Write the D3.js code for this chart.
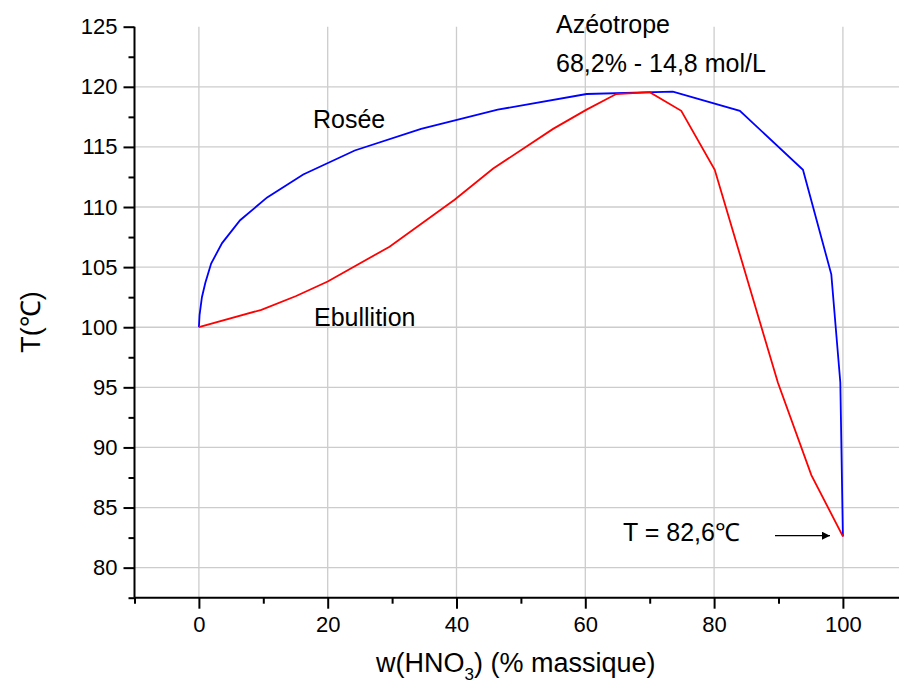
<!DOCTYPE html>
<html>
<head>
<meta charset="utf-8">
<script src="https://cdn.jsdelivr.net/npm/d3@7"></script>
<style>
  body { margin: 0; background: #fff; }
  text { font-family: Arial, "Liberation Sans", sans-serif; fill: #000; }
</style>
</head>
<body>
<svg id="chart" width="899" height="688"></svg>
<script>
// w(HNO3) % massique / T in degC
const roseeW = [0, 0.1, 0.47, 1.0, 1.9, 3.6, 6.4, 10.6, 16.2, 24.2, 34.5, 46.4, 60.2, 73.6, 84.0, 93.8, 98.2, 99.6, 100];
const roseeT = [100, 101.0, 102.5, 103.7, 105.3, 107.0, 108.9, 110.8, 112.7, 114.7, 116.5, 118.1, 119.4, 119.6, 118.0, 113.1, 104.4, 95.4, 82.6];

const ebullW = [0, 9.7, 15.1, 20.0, 29.6, 39.7, 45.7, 55.0, 60.2, 64.8, 70.0, 74.9, 80.1, 89.9, 95.1, 100];
const ebullT = [100, 101.45, 102.6, 103.8, 106.7, 110.6, 113.2, 116.5, 118.1, 119.4, 119.55, 118.0, 113.1, 95.4, 87.7, 82.6];

const xTicks = [0, 20, 40, 60, 80, 100];
const xMinor = [-10, 10, 30, 50, 70, 90];
const yTicks = [80, 85, 90, 95, 100, 105, 110, 115, 120, 125];
const yMinor = [77.5, 82.5, 87.5, 92.5, 97.5, 102.5, 107.5, 112.5, 117.5, 122.5];

const svg = d3.select("#chart");
const margin = { left: 134.5, top: 26.7, bottom: 597.7 };

const x = d3.scaleLinear().domain([-10, 110]).range([margin.left, margin.left + 120 * 6.44]);
const y = d3.scaleLinear().domain([77.5, 125]).range([margin.bottom, margin.top]);

// grid
svg.append("g")
    .selectAll("line")
    .data(xTicks)
    .enter().append("line")
        .attr("x1", d => x(d)).attr("x2", d => x(d))
        .attr("y1", y(125)).attr("y2", y(77.5))
        .attr("stroke", "#cccccc").attr("stroke-width", 1.3);

svg.append("g")
    .selectAll("line")
    .data(yTicks.filter(d => d < 125))
    .enter().append("line")
        .attr("x1", x(-10)).attr("x2", 899)
        .attr("y1", d => y(d)).attr("y2", d => y(d))
        .attr("stroke", "#cccccc").attr("stroke-width", 1.3);

// curves
const line = d3.line().x(d => x(d[0])).y(d => y(d[1]));

svg.append("path")
    .datum(d3.zip(roseeW, roseeT))
    .attr("d", line)
    .attr("fill", "none")
    .attr("stroke", "#0000ff")
    .attr("stroke-width", 1.8);

svg.append("path")
    .datum(d3.zip(ebullW, ebullT))
    .attr("d", line)
    .attr("fill", "none")
    .attr("stroke", "#ff0000")
    .attr("stroke-width", 1.8);

// axes
const xAxis = svg.append("g")
    .attr("transform", `translate(0,${y(77.5)})`)
    .call(d3.axisBottom(x).tickValues(xTicks).tickSize(11).tickPadding(8));
svg.append("g")
    .attr("transform", `translate(0,${y(77.5)})`)
    .call(d3.axisBottom(x).tickValues(xMinor).tickSize(6).tickFormat(""))
    .call(g => g.select(".domain").remove());

const yAxis = svg.append("g")
    .attr("transform", `translate(${x(-10)},0)`)
    .call(d3.axisLeft(y).tickValues(yTicks).tickSize(11).tickPadding(6));
svg.append("g")
    .attr("transform", `translate(${x(-10)},0)`)
    .call(d3.axisLeft(y).tickValues(yMinor).tickSize(6).tickFormat(""))
    .call(g => g.select(".domain").remove());

xAxis.select(".domain").attr("d", `M${x(-10)},0H899`);
yAxis.select(".domain").attr("d", `M0,${y(77.5)}V${y(125)}`);

svg.selectAll(".domain, .tick line").attr("stroke", "#000").attr("stroke-width", 2);
svg.selectAll(".tick text").style("font-size", "22px").style("font-family", "Arial, 'Liberation Sans', sans-serif");

// axis titles
svg.append("text")
    .attr("transform", "translate(40,322) rotate(-90)")
    .attr("text-anchor", "middle")
    .style("font-size", "27px")
    .text("T(℃)");

const xt = svg.append("text")
    .attr("x", 376).attr("y", 672)
    .style("font-size", "27px");
xt.append("tspan").text("w(HNO");
xt.append("tspan").attr("dy", 8).style("font-size", "17px").text("3");
xt.append("tspan").attr("dy", -8).text(") (% massique)");

// annotations
const notes = [
    { t: "Azéotrope", x: 556, y: 33 },
    { t: "68,2% - 14,8 mol/L", x: 556, y: 72 },
    { t: "Rosée", x: 313, y: 128 },
    { t: "Ebullition", x: 314, y: 326 },
    { t: "T = 82,6℃", x: 623, y: 541 }
];
svg.append("g")
    .selectAll("text")
    .data(notes)
    .enter().append("text")
        .attr("x", d => d.x).attr("y", d => d.y)
        .style("font-size", "25px")
        .text(d => d.t);

svg.append("defs").append("marker")
    .attr("id", "arrow")
    .attr("viewBox", "0 0 10 10")
    .attr("refX", 10).attr("refY", 5)
    .attr("markerWidth", 16).attr("markerHeight", 8)
    .attr("markerUnits", "userSpaceOnUse")
    .attr("orient", "auto")
    .append("path").attr("d", "M0,0L10,5L0,10Z").attr("fill", "#000");

svg.append("line")
    .attr("x1", 775).attr("y1", 535.7)
    .attr("x2", 830).attr("y2", 535.7)
    .attr("stroke", "#000").attr("stroke-width", 1.2)
    .attr("marker-end", "url(#arrow)");
</script>
</body>
</html>
